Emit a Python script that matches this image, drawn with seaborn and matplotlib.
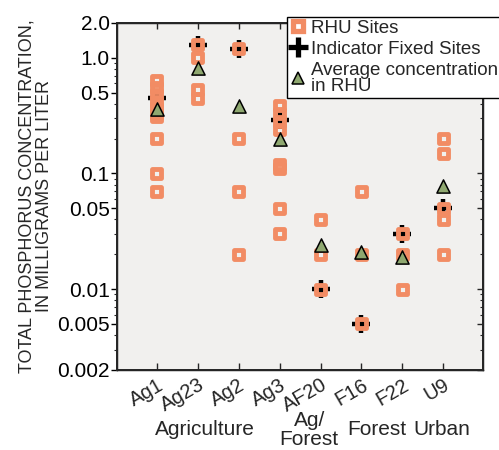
import numpy as np
import pandas as pd
import matplotlib
matplotlib.use("Agg")
import matplotlib.pyplot as plt
from matplotlib.ticker import FixedLocator, FixedFormatter, LogLocator, NullFormatter
from matplotlib.lines import Line2D
import seaborn as sns

# Sites, in plotting order
sites = ["Ag1", "Ag23", "Ag2", "Ag3", "AF20", "F16", "F22", "U9"]

# Total phosphorus (mg/L) at RHU sites, per site
rhu_ag1 = [0.63, 0.55, 0.48, 0.42, 0.37, 0.33, 0.31, 0.2, 0.1, 0.07]
rhu_ag23 = [1.3, 1.0, 0.53, 0.44]
rhu_ag2 = [1.2, 0.2, 0.07, 0.02]
rhu_ag3 = [0.39, 0.33, 0.28, 0.24, 0.12, 0.11, 0.05, 0.03]
rhu_af20 = [0.04, 0.02, 0.01]
rhu_f16 = [0.07, 0.02, 0.005]
rhu_f22 = [0.03, 0.02, 0.01]
rhu_u9 = [0.2, 0.15, 0.05, 0.04, 0.02]

# Indicator fixed sites (mg/L)
fixed_tp = [0.45, 1.3, 1.2, 0.29, 0.01, 0.005, 0.03, 0.05]

# Average concentration in RHU (mg/L)
avg_tp = [0.36, 0.82, 0.38, 0.2, 0.024, 0.021, 0.019, 0.078]

# Land-use groups below the site names
group_names = ["Agriculture", "Ag/\nForest", "Forest", "Urban"]
group_x = [1.17, 3.72, 5.38, 6.97]

y_major = [0.002, 0.005, 0.01, 0.05, 0.1, 0.5, 1.0, 2.0]
y_major_labels = ["0.002", "0.005", "0.01", "0.05", "0.1", "0.5", "1.0", "2.0"]

rhu_lists = [rhu_ag1, rhu_ag23, rhu_ag2, rhu_ag3, rhu_af20, rhu_f16, rhu_f22, rhu_u9]
rhu_df = pd.DataFrame(
    [(s, v) for s, vals in zip(sites, rhu_lists) for v in vals], columns=["site", "tp"]
)
fixed_df = pd.DataFrame({"site": sites, "tp": fixed_tp})
avg_df = pd.DataFrame({"site": sites, "tp": avg_tp})

sns.set_theme(style="white")
plt.rcParams["font.family"] = ["Liberation Sans", "DejaVu Sans"]

ORANGE = "#F28C64"
GREEN = "#8FA870"
BG = "#F1F0EE"

fig = plt.figure(figsize=(4.99, 4.5), dpi=100)
ax = fig.add_axes([0.235, 0.178, 0.7336, 0.771])
ax.set_facecolor(BG)

# Indicator sites: thick black crosses, underneath the square markers
sns.scatterplot(data=fixed_df, x="site", y="tp", ax=ax, marker="+", s=180,
                color="black", linewidth=3.2, zorder=2, legend=False)
# RHU sites: hollow orange squares
sns.scatterplot(data=rhu_df, x="site", y="tp", ax=ax, marker="s", s=42,
                facecolor="none", edgecolor=ORANGE, linewidth=3.5,
                joinstyle="round", zorder=3, legend=False)
# Averages: green triangles
sns.scatterplot(data=avg_df, x="site", y="tp", ax=ax, marker="^", s=90,
                color=GREEN, edgecolor="black", linewidth=1.1, zorder=4, legend=False)

ax.set_yscale("log")
ax.set_ylim(0.002, 2.0)
ax.set_xlim(-0.97, 7.98)
ax.yaxis.set_major_locator(FixedLocator(y_major))
ax.yaxis.set_major_formatter(FixedFormatter(y_major_labels))
ax.yaxis.set_minor_locator(LogLocator(base=10, subs=np.arange(2, 10), numticks=20))
ax.yaxis.set_minor_formatter(NullFormatter())

ax.tick_params(axis="y", which="major", direction="out", length=4, width=1,
               pad=1.5, labelsize=15, colors="black", left=True)
ax.tick_params(axis="y", which="minor", direction="out", length=2.5, width=0.8, left=True)
ax.tick_params(axis="x", which="major", direction="in", length=5, width=1,
               pad=4, labelsize=14.5, bottom=True)
for lab in ax.get_xticklabels():
    lab.set_rotation(30)
    lab.set_ha("right")
    lab.set_rotation_mode("anchor")

ax.set_xlabel("")
ax.set_ylabel("TOTAL PHOSPHORUS CONCENTRATION,\nIN MILLIGRAMS PER LITER",
              fontsize=13, linespacing=1.05, labelpad=3)

for sp in ax.spines.values():
    sp.set_color("black")
    sp.set_linewidth(1.0)

# Inward ticks on the right and top edges
axr = ax.twinx()
axr.set_yscale("log")
axr.set_ylim(ax.get_ylim())
axr.yaxis.set_major_locator(FixedLocator(y_major))
axr.yaxis.set_minor_locator(LogLocator(base=10, subs=np.arange(2, 10), numticks=20))
axr.yaxis.set_major_formatter(NullFormatter())
axr.yaxis.set_minor_formatter(NullFormatter())
axr.tick_params(axis="y", which="major", direction="in", length=4, width=1, right=True)
axr.tick_params(axis="y", which="minor", direction="in", length=2.5, width=0.8, right=True)

axt = ax.twiny()
axt.set_xlim(ax.get_xlim())
axt.set_xticks(range(len(sites)))
axt.set_xticklabels([])
axt.tick_params(axis="x", direction="in", length=4, width=1, top=True)

# Land-use group labels
for name, gx in zip(group_names, group_x):
    ax.text(gx, -0.173, name, transform=ax.get_xaxis_transform(), ha="center",
            va="center", fontsize=15, linespacing=0.95)

handles = [
    Line2D([], [], linestyle="none", marker="s", markersize=7, markerfacecolor="white",
           markeredgecolor=ORANGE, markeredgewidth=3.8),
    Line2D([], [], linestyle="none", marker="+", markersize=15, color="black",
           markeredgewidth=3.8),
    Line2D([], [], linestyle="none", marker="^", markersize=9, markerfacecolor=GREEN,
           markeredgecolor="black", markeredgewidth=1.1),
]
labels = ["RHU Sites", "Indicator Fixed Sites", "Average concentration\nin RHU"]
leg = axt.legend(handles, labels, loc="upper right", bbox_to_anchor=(1.003, 0.963),
                 bbox_transform=fig.transFigure, fontsize=13.5, frameon=True,
                 fancybox=False, edgecolor="black", framealpha=1, borderpad=0.15,
                 labelspacing=0.22, handlelength=0.9, handletextpad=0.2, borderaxespad=0)
leg.get_frame().set_linewidth(1.0)
for t in leg.get_texts():
    t.set_linespacing(0.92)

fig.savefig("out.png", dpi=100, facecolor="white")
